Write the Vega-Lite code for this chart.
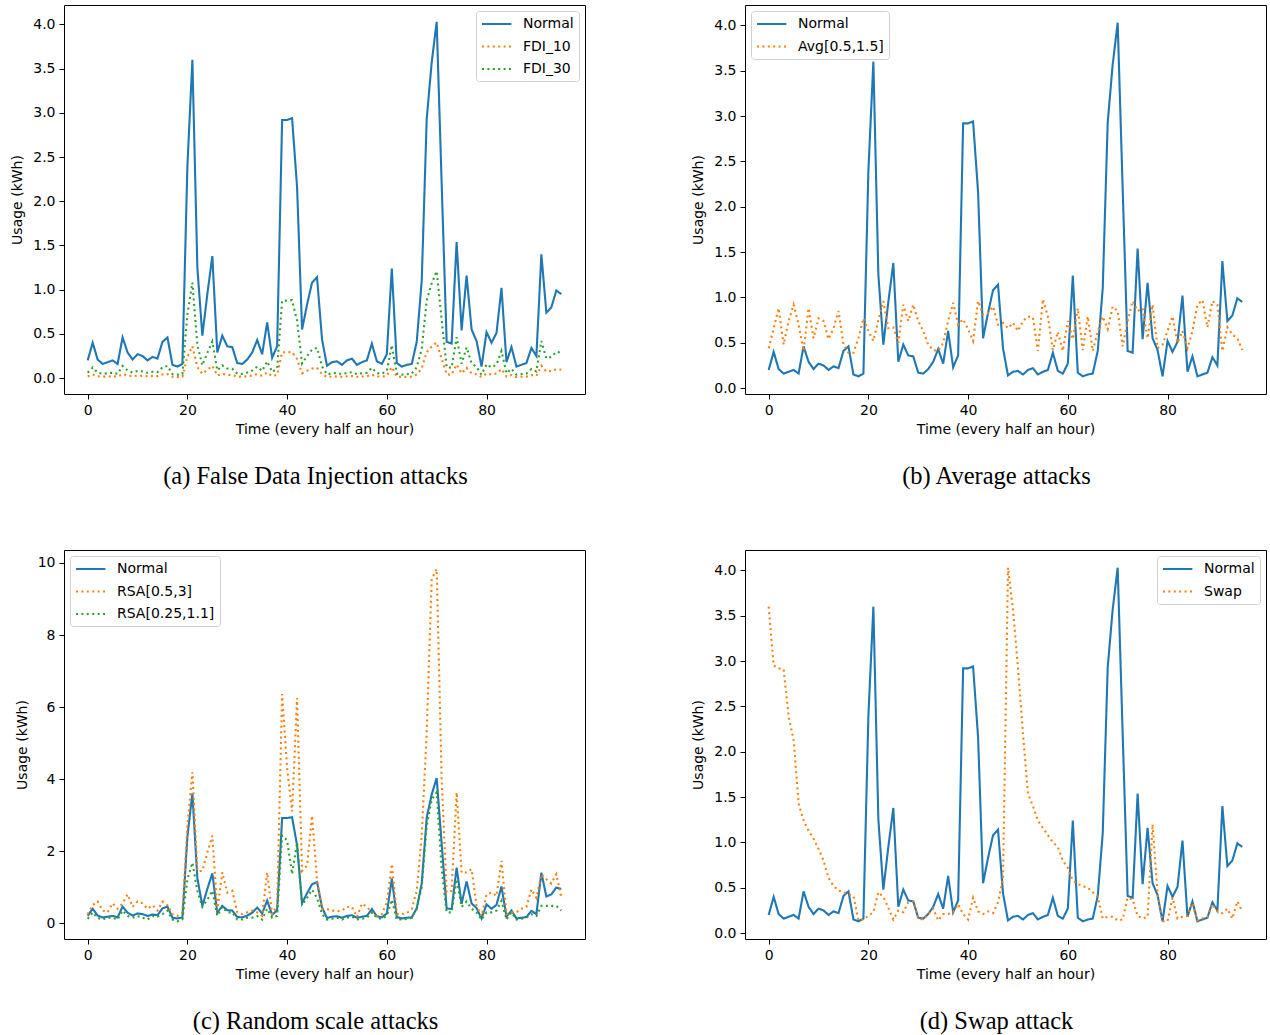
{
  "$schema": "https://vega.github.io/schema/vega-lite/v6.json",
  "autosize": "pad",
  "padding": {"left": 10, "top": 4, "right": 3, "bottom": 6},
  "background": "#ffffff",
  "config": {
    "view": {"stroke": "#000000", "strokeWidth": 1},
    "axis": {"domain": false, "grid": false, "ticks": true, "tickColor": "#000000", "tickSize": 5, "tickWidth": 1, "labelFont": "DejaVu Sans", "labelFontSize": 14, "labelColor": "#000000", "labelPadding": 4, "titleFont": "DejaVu Sans", "titleFontSize": 14, "titleFontWeight": "normal", "titleColor": "#000000"},
    "axisX": {"titlePadding": 5},
    "axisY": {"titlePadding": 8},
    "legend": {"title": null, "symbolType": "M-1,0H3.2", "symbolStrokeWidth": 2, "symbolSize": 196, "labelFont": "DejaVu Sans", "labelFontSize": 14, "labelColor": "#000000", "labelOffset": 26, "padding": 5, "rowPadding": 7.5, "strokeColor": "#d0d0d0", "fillColor": "rgba(255,255,255,0.85)", "cornerRadius": 3, "offset": 6},
    "title": {"font": "Liberation Serif", "fontSize": 24.5, "fontWeight": "normal", "color": "#000000", "orient": "bottom", "anchor": "middle", "offset": 29, "dx": -9}
  },
  "resolve": {"scale": {"color": "independent", "strokeDash": "independent"}, "legend": {"color": "independent", "strokeDash": "independent"}},
  "datasets": {
    "d": [
      {"t":0,"Normal":0.20,"FDI_10":0.020,"FDI_30":0.060,"Avg":0.44,"RSA_a":0.25,"RSA_b":0.12,"Swap":3.60},
      {"t":1,"Normal":0.40,"FDI_10":0.040,"FDI_30":0.120,"Avg":0.66,"RSA_a":0.50,"RSA_b":0.30,"Swap":2.95},
      {"t":2,"Normal":0.21,"FDI_10":0.021,"FDI_30":0.063,"Avg":0.88,"RSA_a":0.60,"RSA_b":0.15,"Swap":2.92},
      {"t":3,"Normal":0.16,"FDI_10":0.016,"FDI_30":0.048,"Avg":0.48,"RSA_a":0.35,"RSA_b":0.10,"Swap":2.91},
      {"t":4,"Normal":0.18,"FDI_10":0.018,"FDI_30":0.054,"Avg":0.74,"RSA_a":0.30,"RSA_b":0.15,"Swap":2.39},
      {"t":5,"Normal":0.20,"FDI_10":0.020,"FDI_30":0.060,"Avg":0.92,"RSA_a":0.55,"RSA_b":0.15,"Swap":2.13},
      {"t":6,"Normal":0.16,"FDI_10":0.016,"FDI_30":0.048,"Avg":0.70,"RSA_a":0.40,"RSA_b":0.10,"Swap":1.43},
      {"t":7,"Normal":0.46,"FDI_10":0.046,"FDI_30":0.138,"Avg":0.41,"RSA_a":0.55,"RSA_b":0.35,"Swap":1.24},
      {"t":8,"Normal":0.29,"FDI_10":0.029,"FDI_30":0.087,"Avg":0.88,"RSA_a":0.80,"RSA_b":0.20,"Swap":1.13},
      {"t":9,"Normal":0.21,"FDI_10":0.021,"FDI_30":0.063,"Avg":0.55,"RSA_a":0.45,"RSA_b":0.15,"Swap":1.04},
      {"t":10,"Normal":0.27,"FDI_10":0.027,"FDI_30":0.081,"Avg":0.77,"RSA_a":0.60,"RSA_b":0.20,"Swap":0.93},
      {"t":11,"Normal":0.25,"FDI_10":0.025,"FDI_30":0.075,"Avg":0.74,"RSA_a":0.55,"RSA_b":0.15,"Swap":0.80},
      {"t":12,"Normal":0.20,"FDI_10":0.020,"FDI_30":0.060,"Avg":0.54,"RSA_a":0.40,"RSA_b":0.10,"Swap":0.61},
      {"t":13,"Normal":0.24,"FDI_10":0.024,"FDI_30":0.072,"Avg":0.66,"RSA_a":0.50,"RSA_b":0.20,"Swap":0.52},
      {"t":14,"Normal":0.22,"FDI_10":0.022,"FDI_30":0.066,"Avg":0.85,"RSA_a":0.35,"RSA_b":0.18,"Swap":0.47},
      {"t":15,"Normal":0.41,"FDI_10":0.041,"FDI_30":0.123,"Avg":0.48,"RSA_a":0.60,"RSA_b":0.25,"Swap":0.45},
      {"t":16,"Normal":0.46,"FDI_10":0.046,"FDI_30":0.138,"Avg":0.39,"RSA_a":0.50,"RSA_b":0.35,"Swap":0.43},
      {"t":17,"Normal":0.15,"FDI_10":0.015,"FDI_30":0.045,"Avg":0.39,"RSA_a":0.25,"RSA_b":0.10,"Swap":0.41},
      {"t":18,"Normal":0.13,"FDI_10":0.013,"FDI_30":0.039,"Avg":0.55,"RSA_a":0.20,"RSA_b":0.05,"Swap":0.14},
      {"t":19,"Normal":0.16,"FDI_10":0.016,"FDI_30":0.048,"Avg":0.77,"RSA_a":0.30,"RSA_b":0.10,"Swap":0.15},
      {"t":20,"Normal":2.40,"FDI_10":0.240,"FDI_30":0.720,"Avg":0.63,"RSA_a":2.70,"RSA_b":1.22,"Swap":0.19},
      {"t":21,"Normal":3.60,"FDI_10":0.360,"FDI_30":1.080,"Avg":0.52,"RSA_a":4.19,"RSA_b":1.68,"Swap":0.23},
      {"t":22,"Normal":1.25,"FDI_10":0.125,"FDI_30":0.375,"Avg":0.75,"RSA_a":1.45,"RSA_b":0.90,"Swap":0.45},
      {"t":23,"Normal":0.48,"FDI_10":0.048,"FDI_30":0.144,"Avg":0.96,"RSA_a":1.45,"RSA_b":0.45,"Swap":0.40},
      {"t":24,"Normal":0.95,"FDI_10":0.095,"FDI_30":0.285,"Avg":0.66,"RSA_a":1.96,"RSA_b":0.65,"Swap":0.28},
      {"t":25,"Normal":1.38,"FDI_10":0.138,"FDI_30":0.414,"Avg":0.67,"RSA_a":2.43,"RSA_b":0.90,"Swap":0.15},
      {"t":26,"Normal":0.29,"FDI_10":0.029,"FDI_30":0.087,"Avg":0.50,"RSA_a":0.35,"RSA_b":0.20,"Swap":0.25},
      {"t":27,"Normal":0.48,"FDI_10":0.048,"FDI_30":0.144,"Avg":0.92,"RSA_a":1.41,"RSA_b":0.45,"Swap":0.23},
      {"t":28,"Normal":0.36,"FDI_10":0.036,"FDI_30":0.108,"Avg":0.74,"RSA_a":0.85,"RSA_b":0.30,"Swap":0.34},
      {"t":29,"Normal":0.35,"FDI_10":0.035,"FDI_30":0.105,"Avg":0.92,"RSA_a":0.90,"RSA_b":0.30,"Swap":0.35},
      {"t":30,"Normal":0.17,"FDI_10":0.017,"FDI_30":0.051,"Avg":0.74,"RSA_a":0.30,"RSA_b":0.10,"Swap":0.16},
      {"t":31,"Normal":0.16,"FDI_10":0.016,"FDI_30":0.048,"Avg":0.63,"RSA_a":0.25,"RSA_b":0.10,"Swap":0.15},
      {"t":32,"Normal":0.21,"FDI_10":0.021,"FDI_30":0.063,"Avg":0.48,"RSA_a":0.30,"RSA_b":0.15,"Swap":0.21},
      {"t":33,"Normal":0.29,"FDI_10":0.029,"FDI_30":0.087,"Avg":0.42,"RSA_a":0.35,"RSA_b":0.15,"Swap":0.27},
      {"t":34,"Normal":0.43,"FDI_10":0.043,"FDI_30":0.129,"Avg":0.41,"RSA_a":0.30,"RSA_b":0.20,"Swap":0.14},
      {"t":35,"Normal":0.27,"FDI_10":0.027,"FDI_30":0.081,"Avg":0.50,"RSA_a":0.20,"RSA_b":0.10,"Swap":0.21},
      {"t":36,"Normal":0.63,"FDI_10":0.063,"FDI_30":0.189,"Avg":0.74,"RSA_a":1.41,"RSA_b":0.40,"Swap":0.21},
      {"t":37,"Normal":0.23,"FDI_10":0.023,"FDI_30":0.069,"Avg":0.94,"RSA_a":0.25,"RSA_b":0.15,"Swap":0.23},
      {"t":38,"Normal":0.36,"FDI_10":0.036,"FDI_30":0.108,"Avg":0.70,"RSA_a":0.50,"RSA_b":0.20,"Swap":0.32},
      {"t":39,"Normal":2.92,"FDI_10":0.292,"FDI_30":0.876,"Avg":0.76,"RSA_a":6.36,"RSA_b":2.43,"Swap":0.21},
      {"t":40,"Normal":2.92,"FDI_10":0.292,"FDI_30":0.876,"Avg":0.65,"RSA_a":4.30,"RSA_b":2.30,"Swap":0.15},
      {"t":41,"Normal":2.94,"FDI_10":0.294,"FDI_30":0.882,"Avg":0.52,"RSA_a":3.10,"RSA_b":1.36,"Swap":0.39},
      {"t":42,"Normal":2.16,"FDI_10":0.216,"FDI_30":0.648,"Avg":0.96,"RSA_a":6.25,"RSA_b":2.24,"Swap":0.24},
      {"t":43,"Normal":0.55,"FDI_10":0.055,"FDI_30":0.165,"Avg":0.81,"RSA_a":1.45,"RSA_b":0.50,"Swap":0.21},
      {"t":44,"Normal":0.83,"FDI_10":0.083,"FDI_30":0.249,"Avg":0.83,"RSA_a":1.60,"RSA_b":0.70,"Swap":0.24},
      {"t":45,"Normal":1.08,"FDI_10":0.108,"FDI_30":0.324,"Avg":0.90,"RSA_a":2.98,"RSA_b":0.93,"Swap":0.22},
      {"t":46,"Normal":1.14,"FDI_10":0.114,"FDI_30":0.342,"Avg":0.70,"RSA_a":1.20,"RSA_b":0.70,"Swap":0.34},
      {"t":47,"Normal":0.44,"FDI_10":0.044,"FDI_30":0.132,"Avg":0.72,"RSA_a":0.40,"RSA_b":0.25,"Swap":0.60},
      {"t":48,"Normal":0.14,"FDI_10":0.014,"FDI_30":0.042,"Avg":0.66,"RSA_a":0.39,"RSA_b":0.10,"Swap":4.03},
      {"t":49,"Normal":0.18,"FDI_10":0.018,"FDI_30":0.054,"Avg":0.72,"RSA_a":0.35,"RSA_b":0.12,"Swap":3.57},
      {"t":50,"Normal":0.19,"FDI_10":0.019,"FDI_30":0.057,"Avg":0.63,"RSA_a":0.33,"RSA_b":0.15,"Swap":2.93},
      {"t":51,"Normal":0.15,"FDI_10":0.015,"FDI_30":0.045,"Avg":0.74,"RSA_a":0.35,"RSA_b":0.10,"Swap":2.20},
      {"t":52,"Normal":0.20,"FDI_10":0.020,"FDI_30":0.060,"Avg":0.79,"RSA_a":0.45,"RSA_b":0.15,"Swap":1.54},
      {"t":53,"Normal":0.22,"FDI_10":0.022,"FDI_30":0.066,"Avg":0.78,"RSA_a":0.45,"RSA_b":0.18,"Swap":1.40},
      {"t":54,"Normal":0.15,"FDI_10":0.015,"FDI_30":0.045,"Avg":0.41,"RSA_a":0.17,"RSA_b":0.10,"Swap":1.24},
      {"t":55,"Normal":0.18,"FDI_10":0.018,"FDI_30":0.054,"Avg":0.98,"RSA_a":0.54,"RSA_b":0.12,"Swap":1.16},
      {"t":56,"Normal":0.20,"FDI_10":0.020,"FDI_30":0.060,"Avg":0.79,"RSA_a":0.45,"RSA_b":0.15,"Swap":1.08},
      {"t":57,"Normal":0.39,"FDI_10":0.039,"FDI_30":0.117,"Avg":0.42,"RSA_a":0.30,"RSA_b":0.30,"Swap":1.00},
      {"t":58,"Normal":0.19,"FDI_10":0.019,"FDI_30":0.057,"Avg":0.62,"RSA_a":0.20,"RSA_b":0.15,"Swap":0.95},
      {"t":59,"Normal":0.16,"FDI_10":0.016,"FDI_30":0.048,"Avg":0.41,"RSA_a":0.25,"RSA_b":0.12,"Swap":0.80},
      {"t":60,"Normal":0.27,"FDI_10":0.027,"FDI_30":0.081,"Avg":0.74,"RSA_a":0.57,"RSA_b":0.20,"Swap":0.72},
      {"t":61,"Normal":1.24,"FDI_10":0.124,"FDI_30":0.372,"Avg":0.54,"RSA_a":1.64,"RSA_b":0.65,"Swap":0.58},
      {"t":62,"Normal":0.17,"FDI_10":0.017,"FDI_30":0.051,"Avg":0.88,"RSA_a":0.25,"RSA_b":0.10,"Swap":0.54},
      {"t":63,"Normal":0.13,"FDI_10":0.013,"FDI_30":0.039,"Avg":0.42,"RSA_a":0.25,"RSA_b":0.10,"Swap":0.52},
      {"t":64,"Normal":0.15,"FDI_10":0.015,"FDI_30":0.045,"Avg":0.79,"RSA_a":0.28,"RSA_b":0.12,"Swap":0.50},
      {"t":65,"Normal":0.16,"FDI_10":0.016,"FDI_30":0.048,"Avg":0.41,"RSA_a":0.39,"RSA_b":0.15,"Swap":0.45},
      {"t":66,"Normal":0.41,"FDI_10":0.041,"FDI_30":0.123,"Avg":0.62,"RSA_a":0.90,"RSA_b":0.40,"Swap":0.40},
      {"t":67,"Normal":1.10,"FDI_10":0.110,"FDI_30":0.330,"Avg":0.79,"RSA_a":2.43,"RSA_b":1.00,"Swap":0.16},
      {"t":68,"Normal":2.93,"FDI_10":0.293,"FDI_30":0.879,"Avg":0.65,"RSA_a":5.30,"RSA_b":2.70,"Swap":0.18},
      {"t":69,"Normal":3.57,"FDI_10":0.357,"FDI_30":1.071,"Avg":0.90,"RSA_a":9.55,"RSA_b":3.44,"Swap":0.18},
      {"t":70,"Normal":4.03,"FDI_10":0.403,"FDI_30":1.209,"Avg":0.85,"RSA_a":9.83,"RSA_b":3.63,"Swap":0.14},
      {"t":71,"Normal":2.20,"FDI_10":0.220,"FDI_30":0.660,"Avg":0.46,"RSA_a":4.00,"RSA_b":1.50,"Swap":0.15},
      {"t":72,"Normal":0.41,"FDI_10":0.041,"FDI_30":0.123,"Avg":0.74,"RSA_a":0.86,"RSA_b":0.30,"Swap":0.39},
      {"t":73,"Normal":0.39,"FDI_10":0.039,"FDI_30":0.117,"Avg":0.96,"RSA_a":0.90,"RSA_b":0.30,"Swap":0.37},
      {"t":74,"Normal":1.54,"FDI_10":0.154,"FDI_30":0.462,"Avg":0.85,"RSA_a":3.63,"RSA_b":1.22,"Swap":0.19},
      {"t":75,"Normal":0.54,"FDI_10":0.054,"FDI_30":0.162,"Avg":0.88,"RSA_a":1.40,"RSA_b":0.45,"Swap":0.16},
      {"t":76,"Normal":1.16,"FDI_10":0.116,"FDI_30":0.348,"Avg":0.55,"RSA_a":1.41,"RSA_b":0.60,"Swap":0.18},
      {"t":77,"Normal":0.55,"FDI_10":0.055,"FDI_30":0.165,"Avg":0.92,"RSA_a":1.50,"RSA_b":0.40,"Swap":1.20},
      {"t":78,"Normal":0.42,"FDI_10":0.042,"FDI_30":0.126,"Avg":0.44,"RSA_a":0.48,"RSA_b":0.30,"Swap":0.43},
      {"t":79,"Normal":0.13,"FDI_10":0.013,"FDI_30":0.039,"Avg":0.48,"RSA_a":0.20,"RSA_b":0.10,"Swap":0.13},
      {"t":80,"Normal":0.52,"FDI_10":0.052,"FDI_30":0.156,"Avg":0.63,"RSA_a":0.80,"RSA_b":0.30,"Swap":0.13},
      {"t":81,"Normal":0.40,"FDI_10":0.040,"FDI_30":0.120,"Avg":0.79,"RSA_a":0.85,"RSA_b":0.30,"Swap":0.39},
      {"t":82,"Normal":0.51,"FDI_10":0.051,"FDI_30":0.153,"Avg":0.50,"RSA_a":0.76,"RSA_b":0.35,"Swap":0.16},
      {"t":83,"Normal":1.02,"FDI_10":0.102,"FDI_30":0.306,"Avg":0.63,"RSA_a":1.73,"RSA_b":0.62,"Swap":0.18},
      {"t":84,"Normal":0.18,"FDI_10":0.018,"FDI_30":0.054,"Avg":0.44,"RSA_a":0.25,"RSA_b":0.10,"Swap":0.19},
      {"t":85,"Normal":0.35,"FDI_10":0.035,"FDI_30":0.105,"Avg":0.63,"RSA_a":0.30,"RSA_b":0.30,"Swap":0.33},
      {"t":86,"Normal":0.13,"FDI_10":0.013,"FDI_30":0.039,"Avg":0.92,"RSA_a":0.30,"RSA_b":0.10,"Swap":0.14},
      {"t":87,"Normal":0.15,"FDI_10":0.015,"FDI_30":0.045,"Avg":0.97,"RSA_a":0.40,"RSA_b":0.12,"Swap":0.16},
      {"t":88,"Normal":0.17,"FDI_10":0.017,"FDI_30":0.051,"Avg":0.67,"RSA_a":0.45,"RSA_b":0.15,"Swap":0.18},
      {"t":89,"Normal":0.34,"FDI_10":0.034,"FDI_30":0.102,"Avg":0.96,"RSA_a":0.94,"RSA_b":0.25,"Swap":0.32},
      {"t":90,"Normal":0.25,"FDI_10":0.025,"FDI_30":0.075,"Avg":0.92,"RSA_a":0.70,"RSA_b":0.20,"Swap":0.24},
      {"t":91,"Normal":1.40,"FDI_10":0.140,"FDI_30":0.420,"Avg":0.41,"RSA_a":1.36,"RSA_b":0.48,"Swap":0.22},
      {"t":92,"Normal":0.74,"FDI_10":0.074,"FDI_30":0.222,"Avg":0.67,"RSA_a":1.22,"RSA_b":0.48,"Swap":0.27},
      {"t":93,"Normal":0.80,"FDI_10":0.080,"FDI_30":0.240,"Avg":0.59,"RSA_a":1.10,"RSA_b":0.48,"Swap":0.16},
      {"t":94,"Normal":0.99,"FDI_10":0.099,"FDI_30":0.297,"Avg":0.55,"RSA_a":1.36,"RSA_b":0.48,"Swap":0.35},
      {"t":95,"Normal":0.95,"FDI_10":0.095,"FDI_30":0.285,"Avg":0.42,"RSA_a":0.72,"RSA_b":0.35,"Swap":0.24}
    ]
  },
  "columns": 2,
  "spacing": {"row": 156, "column": 160},
  "bounds": "flush",
  "concat": [
    {
      "width": 521, "height": 389,
      "title": {"text": "(a) False Data Injection attacks"},
      "data": {"name": "d"},
      "transform": [{"fold": ["Normal", "FDI_10", "FDI_30"], "as": ["series", "v"]}],
      "mark": {"type": "line", "strokeWidth": 2.1},
      "encoding": {
        "x": {"field": "t", "type": "quantitative", "scale": {"domain": [-4.75, 99.75], "nice": false, "zero": false}, "axis": {"values": [0, 20, 40, 60, 80], "title": "Time (every half an hour)"}},
        "y": {"field": "v", "type": "quantitative", "scale": {"domain": [-0.18, 4.22], "nice": false, "zero": false}, "axis": {"values": [0, 0.5, 1, 1.5, 2, 2.5, 3, 3.5, 4], "format": ".1f", "title": "Usage (kWh)"}},
        "color": {"field": "series", "type": "nominal", "scale": {"domain": ["Normal", "FDI_10", "FDI_30"], "range": ["#1f77b4", "#ff7f0e", "#2ca02c"]}, "legend": {"orient": "top-right"}},
        "strokeDash": {"field": "series", "type": "nominal", "scale": {"domain": ["Normal", "FDI_10", "FDI_30"], "range": [[1, 0], [2, 3.4], [2, 3.4]]}, "legend": {"orient": "top-right"}}
      }
    },
    {
      "width": 521, "height": 389,
      "title": {"text": "(b) Average attacks"},
      "data": {"name": "d"},
      "transform": [{"fold": ["Normal", "Avg"], "as": ["series", "v"]}],
      "mark": {"type": "line", "strokeWidth": 2.1},
      "encoding": {
        "x": {"field": "t", "type": "quantitative", "scale": {"domain": [-4.75, 99.75], "nice": false, "zero": false}, "axis": {"values": [0, 20, 40, 60, 80], "title": "Time (every half an hour)"}},
        "y": {"field": "v", "type": "quantitative", "scale": {"domain": [-0.065, 4.225], "nice": false, "zero": false}, "axis": {"values": [0, 0.5, 1, 1.5, 2, 2.5, 3, 3.5, 4], "format": ".1f", "title": "Usage (kWh)"}},
        "color": {"field": "series", "type": "nominal", "scale": {"domain": ["Normal", "Avg"], "range": ["#1f77b4", "#ff7f0e"]}, "legend": {"orient": "top-left", "labelExpr": "datum.label == 'Avg' ? 'Avg[0.5,1.5]' : datum.label"}},
        "strokeDash": {"field": "series", "type": "nominal", "scale": {"domain": ["Normal", "Avg"], "range": [[1, 0], [2, 3.4]]}, "legend": {"orient": "top-left", "labelExpr": "datum.label == 'Avg' ? 'Avg[0.5,1.5]' : datum.label"}}
      }
    },
    {
      "width": 521, "height": 389,
      "title": {"text": "(c) Random scale attacks"},
      "data": {"name": "d"},
      "transform": [{"fold": ["Normal", "RSA_a", "RSA_b"], "as": ["series", "v"]}],
      "mark": {"type": "line", "strokeWidth": 2.1},
      "encoding": {
        "x": {"field": "t", "type": "quantitative", "scale": {"domain": [-4.75, 99.75], "nice": false, "zero": false}, "axis": {"values": [0, 20, 40, 60, 80], "title": "Time (every half an hour)"}},
        "y": {"field": "v", "type": "quantitative", "scale": {"domain": [-0.44, 10.36], "nice": false, "zero": false}, "axis": {"values": [0, 2, 4, 6, 8, 10], "format": "d", "title": "Usage (kWh)"}},
        "color": {"field": "series", "type": "nominal", "scale": {"domain": ["Normal", "RSA_a", "RSA_b"], "range": ["#1f77b4", "#ff7f0e", "#2ca02c"]}, "legend": {"orient": "top-left", "labelExpr": "datum.label == 'RSA_a' ? 'RSA[0.5,3]' : datum.label == 'RSA_b' ? 'RSA[0.25,1.1]' : datum.label"}},
        "strokeDash": {"field": "series", "type": "nominal", "scale": {"domain": ["Normal", "RSA_a", "RSA_b"], "range": [[1, 0], [2, 3.4], [2, 3.4]]}, "legend": {"orient": "top-left", "labelExpr": "datum.label == 'RSA_a' ? 'RSA[0.5,3]' : datum.label == 'RSA_b' ? 'RSA[0.25,1.1]' : datum.label"}}
      }
    },
    {
      "width": 521, "height": 389,
      "title": {"text": "(d) Swap attack"},
      "data": {"name": "d"},
      "transform": [{"fold": ["Normal", "Swap"], "as": ["series", "v"]}],
      "mark": {"type": "line", "strokeWidth": 2.1},
      "encoding": {
        "x": {"field": "t", "type": "quantitative", "scale": {"domain": [-4.75, 99.75], "nice": false, "zero": false}, "axis": {"values": [0, 20, 40, 60, 80], "title": "Time (every half an hour)"}},
        "y": {"field": "v", "type": "quantitative", "scale": {"domain": [-0.065, 4.225], "nice": false, "zero": false}, "axis": {"values": [0, 0.5, 1, 1.5, 2, 2.5, 3, 3.5, 4], "format": ".1f", "title": "Usage (kWh)"}},
        "color": {"field": "series", "type": "nominal", "scale": {"domain": ["Normal", "Swap"], "range": ["#1f77b4", "#ff7f0e"]}, "legend": {"orient": "top-right"}},
        "strokeDash": {"field": "series", "type": "nominal", "scale": {"domain": ["Normal", "Swap"], "range": [[1, 0], [2, 3.4]]}, "legend": {"orient": "top-right"}}
      }
    }
  ]
}
